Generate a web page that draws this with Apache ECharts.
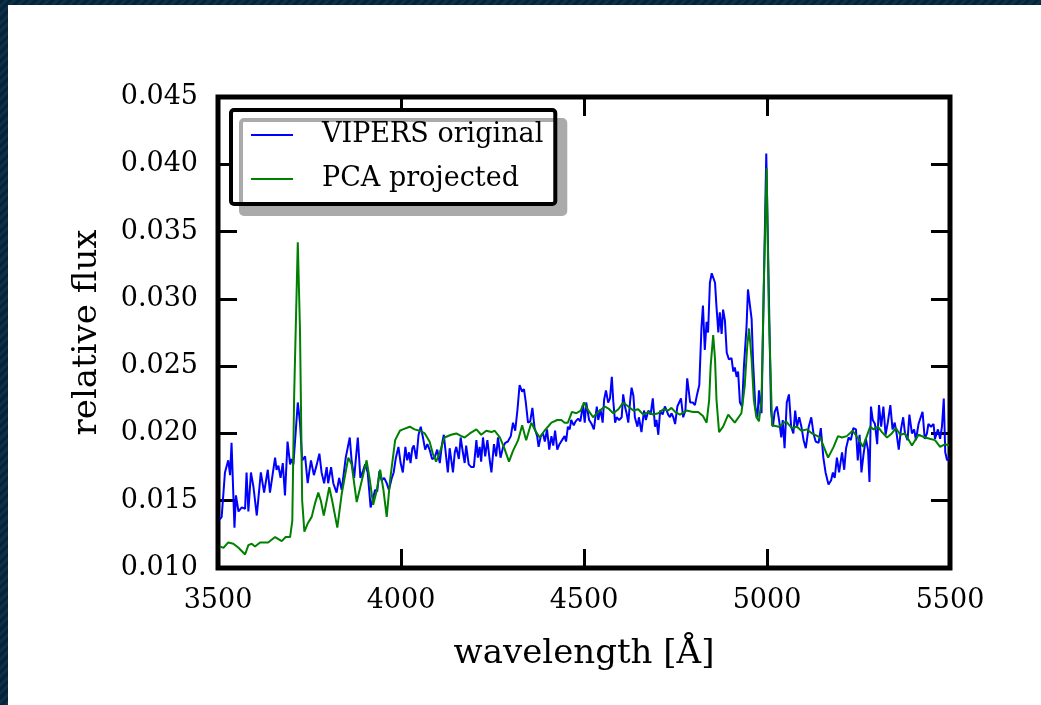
<!DOCTYPE html>
<html>
<head>
<meta charset="utf-8">
<script src="https://cdn.jsdelivr.net/npm/echarts@6.0.0/dist/echarts.min.js"></script>
<style>
  html, body { margin: 0; padding: 0; width: 1041px; height: 705px; overflow: hidden;
    background: repeating-linear-gradient(135deg, #06233a 0px, #06233a 3px, #0b3149 3px, #0b3149 6px); }
  #main { position: absolute; left: 8px; top: 5px; width: 1033px; height: 700px; background: #fff; }
</style>
</head>
<body>
<div id="main"></div>
<script>
// VIPERS spectrum (blue) — wavelength in Å, relative flux
const blueWave = [
  3505, 3510, 3519, 3524, 3528, 3533, 3537, 3545, 3549, 3556, 3565, 3574, 3578, 3583, 3590, 3597,
  3601, 3606, 3617, 3626, 3636, 3642, 3656, 3660, 3665, 3671, 3677, 3683, 3690, 3697, 3701, 3706,
  3712, 3718, 3724, 3730, 3738, 3745, 3754, 3762, 3770, 3777, 3783, 3790, 3797, 3801, 3809, 3815,
  3824, 3831, 3838, 3849, 3860, 3865, 3872, 3882, 3889, 3896, 3902, 3909, 3917, 3924, 3929, 3935,
  3941, 3947, 3954, 3961, 3967, 3975, 3980, 3986, 3993, 3999, 4005, 4012, 4017, 4022, 4026, 4031,
  4035, 4042, 4048, 4054, 4060, 4066, 4072, 4078, 4085, 4092, 4099, 4106, 4112, 4117, 4124, 4128,
  4133, 4137, 4142, 4147, 4151, 4158, 4163, 4169, 4174, 4178, 4185, 4192, 4199, 4206, 4210, 4215,
  4219, 4224, 4230, 4236, 4242, 4247, 4254, 4260, 4265, 4272, 4279, 4285, 4292, 4300, 4306, 4312,
  4318, 4324, 4331, 4336, 4341, 4347, 4353, 4359, 4365, 4372, 4376, 4382, 4388, 4393, 4399, 4405,
  4411, 4416, 4421, 4427, 4433, 4440, 4447, 4451, 4456, 4461, 4465, 4472, 4477, 4484, 4490, 4497,
  4502, 4506, 4514, 4521, 4527, 4535, 4539, 4545, 4551, 4555, 4560, 4566, 4571, 4576, 4580, 4585,
  4589, 4596, 4603, 4607, 4612, 4617, 4621, 4626, 4630, 4635, 4639, 4646, 4650, 4657, 4664, 4669,
  4676, 4682, 4688, 4694, 4698, 4703, 4708, 4715, 4721, 4726, 4730, 4735, 4739, 4744, 4749, 4755,
  4760, 4765, 4771, 4777, 4782, 4790, 4797, 4803, 4809, 4815, 4821, 4825, 4830, 4835, 4839, 4844,
  4849, 4853, 4858, 4862, 4867, 4871, 4876, 4880, 4885, 4890, 4896, 4903, 4908, 4912, 4917, 4921,
  4926, 4932, 4937, 4944, 4948, 4953, 4958, 4962, 4968, 4974, 4978, 4985, 4992, 4998, 5011, 5016,
  5021, 5027, 5033, 5039, 5043, 5048, 5054, 5060, 5066, 5072, 5077, 5082, 5088, 5094, 5100, 5106,
  5114, 5121, 5127, 5133, 5141, 5147, 5154, 5160, 5168, 5175, 5180, 5185, 5191, 5197, 5205, 5211,
  5216, 5223, 5229, 5236, 5243, 5248, 5253, 5258, 5264, 5270, 5276, 5280, 5284, 5289, 5295, 5301,
  5306, 5312, 5318, 5324, 5330, 5337, 5343, 5349, 5354, 5360, 5366, 5372, 5377, 5384, 5389, 5396,
  5402, 5407, 5414, 5420, 5425, 5431, 5437, 5441, 5448, 5455, 5459, 5467, 5473, 5478, 5483, 5487,
  5492, 5497
];
const blueFlux = [
  0.0136, 0.0138, 0.0171, 0.0172, 0.0180, 0.0169, 0.0193, 0.0130, 0.0154, 0.0142, 0.0145, 0.0144, 0.0171, 0.0142, 0.0171, 0.0160,
  0.0161, 0.0139, 0.0171, 0.0156, 0.0173, 0.0156, 0.0182, 0.0173, 0.0176, 0.0167, 0.0178, 0.0154, 0.0194, 0.0177, 0.0181, 0.0177,
  0.0200, 0.0223, 0.0208, 0.0180, 0.0183, 0.0163, 0.0180, 0.0169, 0.0177, 0.0185, 0.0171, 0.0163, 0.0175, 0.0163, 0.0175, 0.0163,
  0.0156, 0.0167, 0.0158, 0.0182, 0.0197, 0.0180, 0.0167, 0.0197, 0.0167, 0.0172, 0.0177, 0.0171, 0.0145, 0.0152, 0.0158, 0.0157,
  0.0172, 0.0165, 0.0167, 0.0163, 0.0158, 0.0167, 0.0171, 0.0182, 0.0190, 0.0178, 0.0171, 0.0190, 0.0180, 0.0186, 0.0178, 0.0189,
  0.0191, 0.0181, 0.0199, 0.0205, 0.0197, 0.0188, 0.0192, 0.0188, 0.0181, 0.0182, 0.0188, 0.0178, 0.0192, 0.0199, 0.0181, 0.0171,
  0.0189, 0.0181, 0.0171, 0.0186, 0.0190, 0.0181, 0.0197, 0.0186, 0.0178, 0.0191, 0.0177, 0.0175, 0.0175, 0.0195, 0.0182, 0.0190,
  0.0179, 0.0197, 0.0183, 0.0195, 0.0181, 0.0171, 0.0192, 0.0183, 0.0197, 0.0182, 0.0190, 0.0193, 0.0194, 0.0198, 0.0208, 0.0202,
  0.0217, 0.0236, 0.0231, 0.0233, 0.0223, 0.0208, 0.0209, 0.0219, 0.0204, 0.0198, 0.0190, 0.0198, 0.0200, 0.0194, 0.0203, 0.0188,
  0.0198, 0.0191, 0.0202, 0.0188, 0.0192, 0.0195, 0.0198, 0.0194, 0.0205, 0.0203, 0.0210, 0.0206, 0.0209, 0.0211, 0.0209, 0.0221,
  0.0208, 0.0223, 0.0210, 0.0207, 0.0203, 0.0220, 0.0210, 0.0218, 0.0208, 0.0225, 0.0232, 0.0223, 0.0226, 0.0242, 0.0224, 0.0208,
  0.0212, 0.0210, 0.0212, 0.0229, 0.0220, 0.0214, 0.0208, 0.0224, 0.0234, 0.0228, 0.0212, 0.0205, 0.0212, 0.0201, 0.0217, 0.0210,
  0.0217, 0.0214, 0.0226, 0.0205, 0.0210, 0.0199, 0.0217, 0.0214, 0.0220, 0.0217, 0.0214, 0.0212, 0.0215, 0.0212, 0.0207, 0.0220,
  0.0223, 0.0226, 0.0212, 0.0217, 0.0241, 0.0223, 0.0223, 0.0221, 0.0229, 0.0236, 0.0279, 0.0295, 0.0262, 0.0283, 0.0275, 0.0312,
  0.0319, 0.0320, 0.0312, 0.0294, 0.0275, 0.0290, 0.0274, 0.0292, 0.0284, 0.0260, 0.0255, 0.0256, 0.0246, 0.0249, 0.0242, 0.0246,
  0.0223, 0.0220, 0.0250, 0.0279, 0.0307, 0.0308, 0.0285, 0.0253, 0.0220, 0.0212, 0.0232, 0.0215, 0.0319, 0.0408, 0.0217, 0.0205,
  0.0216, 0.0220, 0.0210, 0.0197, 0.0210, 0.0189, 0.0223, 0.0229, 0.0205, 0.0200, 0.0217, 0.0205, 0.0212, 0.0205, 0.0195, 0.0189,
  0.0205, 0.0212, 0.0200, 0.0194, 0.0193, 0.0204, 0.0182, 0.0171, 0.0162, 0.0165, 0.0171, 0.0167, 0.0182, 0.0171, 0.0186, 0.0173,
  0.0189, 0.0197, 0.0195, 0.0204, 0.0203, 0.0180, 0.0199, 0.0171, 0.0185, 0.0196, 0.0188, 0.0164, 0.0220, 0.0210, 0.0207, 0.0192,
  0.0221, 0.0205, 0.0220, 0.0199, 0.0208, 0.0221, 0.0203, 0.0208, 0.0200, 0.0188, 0.0203, 0.0212, 0.0200, 0.0195, 0.0214, 0.0200,
  0.0203, 0.0195, 0.0207, 0.0212, 0.0216, 0.0196, 0.0200, 0.0207, 0.0205, 0.0207, 0.0196, 0.0203, 0.0196, 0.0205, 0.0226, 0.0186,
  0.0180, 0.0182
];

// PCA projection (green)
const greenWave = [
  3505, 3515, 3528, 3542, 3556, 3574, 3583, 3592, 3601, 3615, 3637, 3656, 3674, 3685, 3697, 3703,
  3708, 3718, 3724, 3730, 3736, 3745, 3756, 3765, 3774, 3781, 3789, 3797, 3804, 3812, 3826, 3838,
  3856, 3865, 3879, 3893, 3906, 3915, 3924, 3934, 3943, 3952, 3961, 3970, 3984, 3997, 4005, 4024,
  4037, 4051, 4065, 4078, 4087, 4096, 4106, 4119, 4137, 4151, 4165, 4174, 4188, 4206, 4219, 4233,
  4247, 4256, 4270, 4281, 4295, 4306, 4320, 4331, 4342, 4356, 4367, 4379, 4392, 4411, 4427, 4438,
  4447, 4456, 4467, 4479, 4491, 4500, 4507, 4525, 4539, 4557, 4569, 4580, 4594, 4607, 4621, 4635,
  4648, 4662, 4676, 4689, 4703, 4717, 4730, 4739, 4749, 4762, 4780, 4798, 4812, 4825, 4835, 4842,
  4846, 4853, 4858, 4862, 4869, 4880, 4894, 4912, 4930, 4939, 4946, 4951, 4958, 4964, 4971, 4978,
  4985, 4992, 4999, 5005, 5014, 5032, 5052, 5068, 5082, 5094, 5109, 5123, 5145, 5167, 5182, 5194,
  5205, 5218, 5234, 5250, 5262, 5270, 5282, 5291, 5303, 5314, 5328, 5341, 5352, 5364, 5377, 5396,
  5414, 5432, 5445, 5459, 5473, 5487, 5497
];
const greenFlux = [
  0.0116, 0.0115, 0.0119, 0.0118, 0.0115, 0.0110, 0.0117, 0.0118, 0.0116, 0.0119, 0.0119, 0.0123, 0.0120, 0.0123, 0.0123, 0.0135,
  0.0227, 0.0342, 0.0277, 0.0150, 0.0127, 0.0133, 0.0138, 0.0148, 0.0156, 0.0150, 0.0139, 0.0150, 0.0160, 0.0150, 0.0130, 0.0155,
  0.0182, 0.0177, 0.0149, 0.0165, 0.0180, 0.0165, 0.0147, 0.0158, 0.0173, 0.0158, 0.0138, 0.0165, 0.0195, 0.0202, 0.0203, 0.0205,
  0.0203, 0.0202, 0.0200, 0.0194, 0.0185, 0.0179, 0.0186, 0.0197, 0.0199, 0.0200, 0.0198, 0.0197, 0.0200, 0.0203, 0.0199, 0.0202,
  0.0201, 0.0202, 0.0197, 0.0190, 0.0179, 0.0187, 0.0195, 0.0206, 0.0195, 0.0208, 0.0202, 0.0197, 0.0202, 0.0208, 0.0210, 0.0210,
  0.0208, 0.0208, 0.0216, 0.0215, 0.0217, 0.0223, 0.0219, 0.0212, 0.0216, 0.0220, 0.0218, 0.0215, 0.0218, 0.0223, 0.0220, 0.0217,
  0.0218, 0.0214, 0.0216, 0.0214, 0.0215, 0.0218, 0.0217, 0.0219, 0.0216, 0.0214, 0.0217, 0.0216, 0.0216, 0.0213, 0.0208, 0.0225,
  0.0250, 0.0273, 0.0255, 0.0225, 0.0201, 0.0205, 0.0214, 0.0208, 0.0215, 0.0235, 0.0265, 0.0278, 0.0255, 0.0225, 0.0212, 0.0209,
  0.0225, 0.0320, 0.0397, 0.0290, 0.0206, 0.0205, 0.0209, 0.0204, 0.0205, 0.0202, 0.0203, 0.0200, 0.0197, 0.0182, 0.0190, 0.0198,
  0.0197, 0.0198, 0.0202, 0.0196, 0.0190, 0.0196, 0.0205, 0.0203, 0.0205, 0.0201, 0.0197, 0.0200, 0.0204, 0.0199, 0.0200, 0.0191,
  0.0199, 0.0197, 0.0196, 0.0195, 0.0190, 0.0192, 0.0191
];

const seriesNames = ['VIPERS original', 'PCA projected'];
const xTicks = { min: 3500, max: 5500, step: 500 };
const yTicks = { min: 0.010, max: 0.045, step: 0.005 };

function pairs(xs, ys) {
  return xs.map((x, i) => [x, ys[i]]);
}

const serif = 'DejaVu Serif';
const tick = { inside: true, length: 19, lineStyle: { color: '#000', width: 3 } };

const option = {
  animation: false,
  grid: {
    left: 210, right: 91, top: 92, bottom: 137,
    show: true, borderColor: '#000', borderWidth: 5,
    outerBoundsMode: 'none'
  },
  legend: {
    orient: 'vertical',
    left: 223,
    top: 105,
    padding: [10, 12, 10, 20],
    itemGap: 14,
    itemWidth: 42,
    itemHeight: 2,
    icon: 'rect',
    backgroundColor: '#fff',
    borderColor: '#000',
    borderWidth: 4,
    borderRadius: 3,
    shadowColor: '#aaaaaa',
    shadowBlur: 0,
    shadowOffsetX: 10,
    shadowOffsetY: 10,
    textStyle: { fontFamily: serif, fontSize: 27, color: '#000', lineHeight: 30, padding: [0, 0, 0, 24] },
    data: seriesNames
  },
  xAxis: [
    {
      type: 'value', position: 'bottom',
      min: xTicks.min, max: xTicks.max, interval: xTicks.step,
      axisLine: { show: false }, axisTick: tick, splitLine: { show: false },
      axisLabel: { fontFamily: serif, fontSize: 27, color: '#000', margin: 19,
        formatter: v => String(v) },
      name: 'wavelength [Å]', nameLocation: 'middle', nameGap: 69,
      nameTextStyle: { fontFamily: serif, fontSize: 34, color: '#000' }
    },
    {
      type: 'value', position: 'top',
      min: xTicks.min, max: xTicks.max, interval: xTicks.step,
      axisLine: { show: false }, axisTick: tick, splitLine: { show: false },
      axisLabel: { show: false }
    }
  ],
  yAxis: [
    {
      type: 'value', position: 'left',
      min: yTicks.min, max: yTicks.max, interval: yTicks.step,
      axisLine: { show: false }, axisTick: tick, splitLine: { show: false },
      axisLabel: { fontFamily: serif, fontSize: 27, color: '#000', margin: 20,
        formatter: v => v.toFixed(3) },
      name: 'relative flux', nameLocation: 'middle', nameGap: 114, nameRotate: 90,
      nameTextStyle: { fontFamily: serif, fontSize: 34, color: '#000' }
    },
    {
      type: 'value', position: 'right',
      min: yTicks.min, max: yTicks.max, interval: yTicks.step,
      axisLine: { show: false }, axisTick: tick, splitLine: { show: false },
      axisLabel: { show: false }
    }
  ],
  series: [
    {
      name: seriesNames[0], type: 'line', symbol: 'none',
      data: pairs(blueWave, blueFlux),
      lineStyle: { color: '#0000ff', width: 2 }, itemStyle: { color: '#0000ff' }
    },
    {
      name: seriesNames[1], type: 'line', symbol: 'none',
      data: pairs(greenWave, greenFlux),
      lineStyle: { color: '#008000', width: 2 }, itemStyle: { color: '#008000' }
    }
  ]
};

const myChart = echarts.init(document.getElementById('main'));
myChart.setOption(option);
window.addEventListener('resize', function () {
  myChart.resize();
});
</script>
</body>
</html>
